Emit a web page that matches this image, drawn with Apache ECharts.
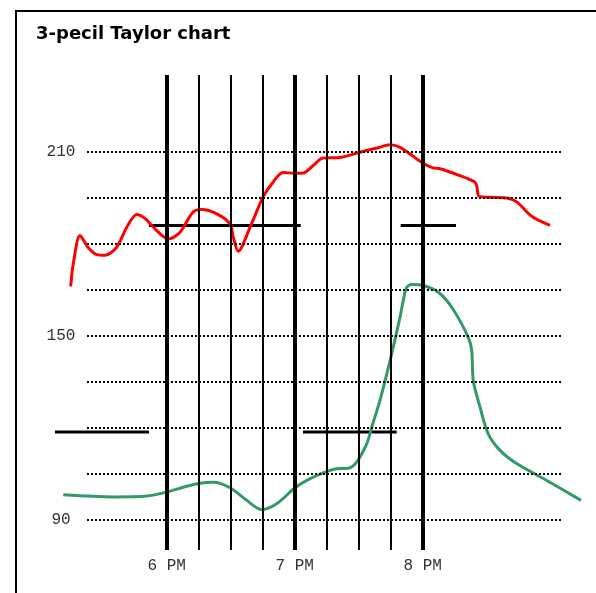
<!DOCTYPE html>
<html>
<head>
<meta charset="utf-8">
<script src="https://cdn.jsdelivr.net/npm/echarts@6/dist/echarts.min.js"></script>
<style>
html,body{margin:0;padding:0;background:#fff;}
#chart{width:596px;height:593px;}
</style>
</head>
<body>
<div id="chart"></div>
<script>
// ---- data (time in decimal hours, values in chart units) ----
const titleText = '3-pecil Taylor chart';
const hourTicks = [18, 19, 20];
const hourLabels = ['6 PM', '7 PM', '8 PM'];
const quarterLines = [18.25, 18.5, 18.75, 19.25, 19.5, 19.75];
const gridValues = [90, 105, 120, 135, 150, 165, 180, 195, 210];
const yLabelValues = [90, 150, 210];

const redTime = [17.25, 17.27, 17.323, 17.385, 17.453, 17.518, 17.609, 17.688, 17.766, 17.83, 17.922, 18.013, 18.104, 18.205, 18.273, 18.391, 18.495, 18.52, 18.559, 18.651, 18.752, 18.83, 18.909, 19.002, 19.065, 19.143, 19.221, 19.354, 19.51, 19.643, 19.745, 19.823, 19.901, 20.003, 20.08, 20.135, 20.268, 20.409, 20.424, 20.44, 20.526, 20.666, 20.737, 20.854, 20.995];
const redValue = [166.0, 173.4, 182.6, 178.8, 176.4, 176.2, 178.8, 185.3, 189.5, 188.2, 184.2, 181.5, 183.7, 190.2, 191.1, 189.7, 186.4, 182.1, 177.5, 185.3, 195.1, 200.0, 203.2, 202.9, 203.0, 205.4, 207.9, 208.1, 209.8, 211.2, 212.2, 211.4, 209.2, 206.2, 204.7, 204.4, 202.5, 200.0, 198.4, 195.4, 195.1, 194.8, 193.5, 188.8, 185.9];

const greenTime = [17.192, 17.583, 17.844, 18.0, 18.156, 18.26, 18.364, 18.495, 18.625, 18.742, 18.859, 19.002, 19.12, 19.25, 19.328, 19.419, 19.484, 19.563, 19.602, 19.666, 19.745, 19.823, 19.848, 19.875, 19.914, 20.005, 20.122, 20.227, 20.356, 20.383, 20.395, 20.448, 20.512, 20.604, 20.734, 20.969, 21.237];
const greenValue = [98.0, 97.3, 97.6, 98.9, 100.8, 101.8, 102.1, 100.3, 96.2, 93.2, 95.1, 100.3, 103.3, 105.6, 106.5, 106.7, 108.7, 114.7, 120.1, 128.8, 141.8, 156.0, 161.4, 165.7, 166.6, 166.3, 164.1, 159.2, 149.4, 145.1, 135.3, 126.6, 117.9, 112.5, 108.2, 102.7, 96.2];

const barStart = [17.862, 19.828, 17.127, 19.065];
const barEnd   = [19.047, 20.26, 17.862, 19.797];
const barValue = [185.9, 185.9, 118.5, 118.5];

// ---- build options ----
const dotFrom = 17.3774, dotTo = 21.0805;   // extent of the dotted guide lines (time)
const redData = redTime.map((t, i) => [t, redValue[i]]);
const greenData = greenTime.map((t, i) => [t, greenValue[i]]);
const barData = barStart.map((s, i) => [s, barEnd[i], barValue[i]]);

const vLines = hourTicks.map(v => ({ xAxis: v, lineStyle: { color: '#000', width: 4, type: 'solid' } }))
  .concat(quarterLines.map(v => ({ xAxis: v, lineStyle: { color: '#000', width: 2, type: 'solid' } })));
const hLines = gridValues.map(v => [
  { coord: [dotFrom, v], lineStyle: { color: '#000', width: 2, type: [2, 2] } },
  { coord: [dotTo, v] }
]);

const chart = echarts.init(document.getElementById('chart'), null, { renderer: 'canvas' });
chart.setOption({
  animation: false,
  backgroundColor: '#fff',
  title: {
    text: titleText,
    left: 36,
    top: 25,
    padding: 0,
    textStyle: { fontFamily: 'DejaVu Sans', fontWeight: 'bold', fontSize: 18, color: '#000' }
  },
  graphic: [{
    type: 'rect',
    shape: { x: 16, y: 11, width: 800, height: 800 },
    style: { fill: 'none', stroke: '#000', lineWidth: 2 },
    silent: true,
    z: 0
  }],
  grid: { left: 50, right: 6, top: 75, bottom: 43 },
  xAxis: {
    type: 'value',
    min: 17.08828,
    max: 21.30703,
    axisLine: { show: false },
    axisTick: { show: false },
    splitLine: { show: false },
    axisLabel: {
      customValues: hourTicks,
      formatter: v => hourLabels[hourTicks.indexOf(Math.round(v))] || '',
      fontFamily: 'Liberation Mono',
      fontSize: 16,
      color: '#333',
      margin: 8
    }
  },
  yAxis: {
    type: 'value',
    min: 80,
    max: 235,
    axisLine: { show: false },
    axisTick: { show: false },
    splitLine: { show: false },
    axisLabel: {
      customValues: yLabelValues,
      fontFamily: 'Liberation Mono',
      fontSize: 16,
      color: '#333',
      align: 'center',
      margin: -11
    }
  },
  series: [
    {
      type: 'line',
      data: [],
      silent: true,
      z: 1,
      markLine: {
        silent: true,
        symbol: ['none', 'none'],
        label: { show: false },
        emphasis: { disabled: true },
        data: hLines.concat(vLines)
      }
    },
    {
      type: 'custom',
      z: 3,
      clip: false,
      silent: true,
      data: barData,
      encode: { x: [0, 1], y: 2 },
      renderItem: function (params, api) {
        const p1 = api.coord([api.value(0), api.value(2)]);
        const p2 = api.coord([api.value(1), api.value(2)]);
        return {
          type: 'line',
          shape: { x1: p1[0], y1: p1[1], x2: p2[0], y2: p2[1] },
          style: { stroke: '#000', lineWidth: 3 }
        };
      }
    },
    {
      type: 'line',
      data: redData,
      smooth: 0.3,
      showSymbol: false,
      z: 4,
      lineStyle: { color: '#ff0000', width: 3 }
    },
    {
      type: 'line',
      data: greenData,
      smooth: 0.3,
      showSymbol: false,
      z: 4,
      lineStyle: { color: '#339966', width: 3 }
    }
  ]
});
</script>
</body>
</html>
